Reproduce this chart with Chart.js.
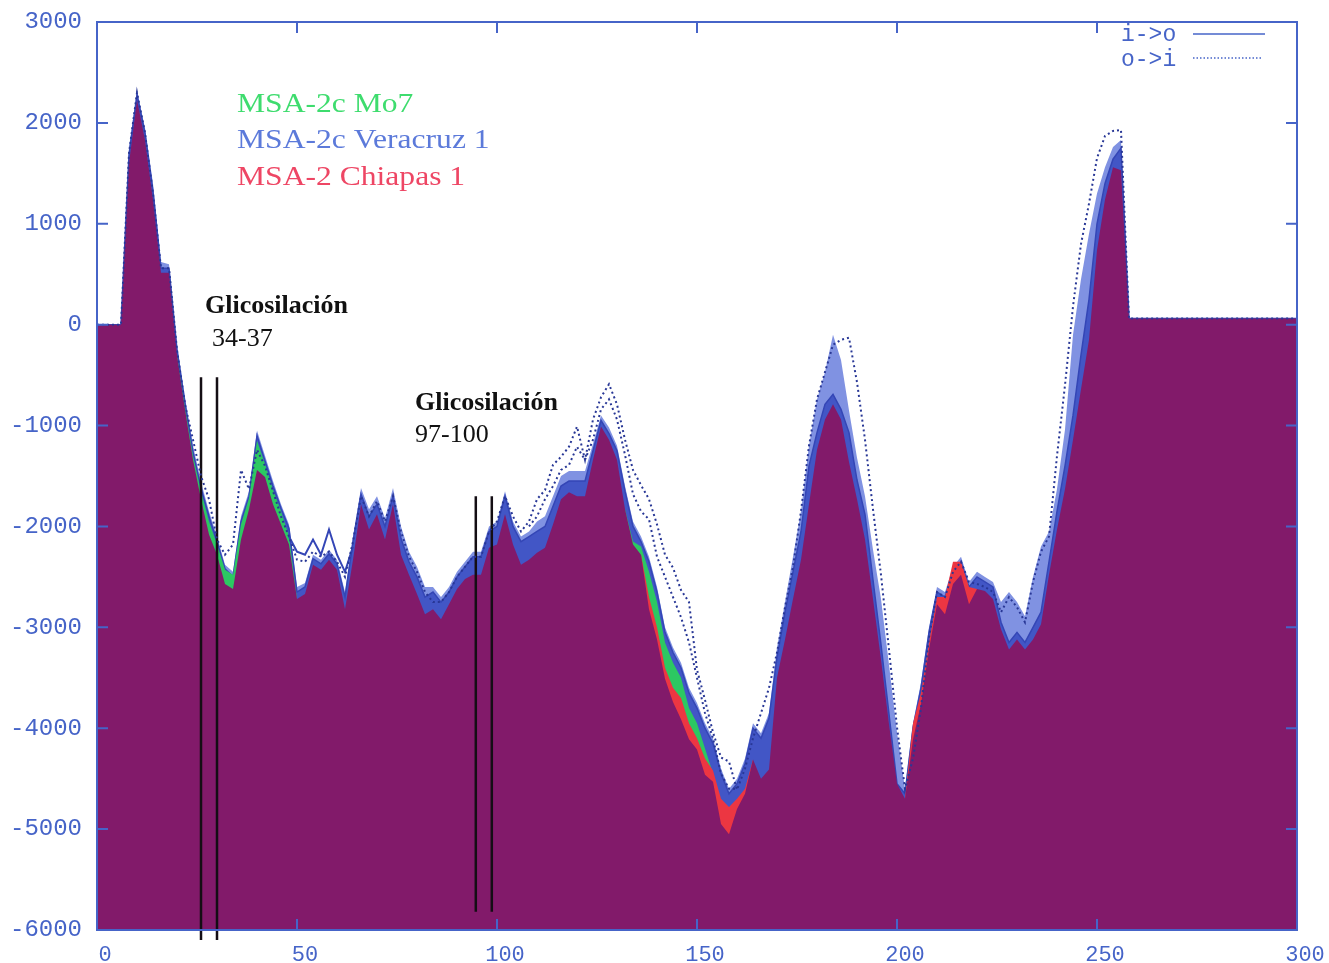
<!DOCTYPE html>
<html>
<head>
<meta charset="utf-8">
<script src="https://cdn.jsdelivr.net/npm/chart.js@4.4.1/dist/chart.umd.min.js"></script>
<style>
  body { margin: 0; background: #fff; }
  canvas { display: block; }
</style>
</head>
<body>
<canvas id="c" width="1329" height="963"></canvas>
<script>
// sample positions (residue), step 2
var xs = [
  0, 2, 4, 6, 8, 10, 12, 14, 16, 18,
  20, 22, 24, 26, 28, 30, 32, 34, 36, 38,
  40, 42, 44, 46, 48, 50, 52, 54, 56, 58,
  60, 62, 64, 66, 68, 70, 72, 74, 76, 78,
  80, 82, 84, 86, 88, 90, 92, 94, 96, 98,
  100, 102, 104, 106, 108, 110, 112, 114, 116, 118,
  120, 122, 124, 126, 128, 130, 132, 134, 136, 138,
  140, 142, 144, 146, 148, 150, 152, 154, 156, 158,
  160, 162, 164, 166, 168, 170, 172, 174, 176, 178,
  180, 182, 184, 186, 188, 190, 192, 194, 196, 198,
  200, 202, 204, 206, 208, 210, 212, 214, 216, 218,
  220, 222, 224, 226, 228, 230, 232, 234, 236, 238,
  240, 242, 244, 246, 248, 250, 252, 254, 256, 258,
  260, 262, 264, 266, 268, 270, 272, 274, 276, 278,
  280, 282, 284, 286, 288, 290, 292, 294, 296, 298,
  300
];

// purple profile (drawn on top)
var purple = [
  0, 0, 0, 0, 1600, 2230, 1830, 1240, 515, 515,
  -300, -840, -1340, -1730, -2080, -2280, -2570, -2620, -2130, -1830,
  -1440, -1510, -1780, -1980, -2180, -2720, -2670, -2380, -2430, -2330,
  -2430, -2820, -2330, -1780, -2030, -1880, -2130, -1780, -2280, -2480,
  -2670, -2870, -2820, -2920, -2770, -2620, -2520, -2480, -2480, -2210,
  -2180, -1880, -2180, -2380, -2330, -2260, -2210, -1980, -1730, -1660,
  -1700, -1700, -1340, -1010, -1140, -1340, -1830, -2180, -2280, -2820,
  -3120, -3510, -3740, -3910, -4110, -4210, -4460, -4530, -4950, -5050,
  -4800, -4650, -4310, -4500, -4410, -3500, -3120, -2720, -2330, -1780,
  -1240, -940, -790, -940, -1360, -1730, -2130, -2720, -3320, -3960,
  -4550, -4700, -4110, -3760, -3220, -2770, -2870, -2570, -2480, -2770,
  -2620, -2640, -2720, -3020, -3220, -3120, -3220, -3120, -2970, -2480,
  -2030, -1630, -1140, -640, -150, 740, 1240, 1560, 1530, 60,
  60, 60, 60, 60, 60, 60, 60, 60, 60, 60,
  60, 60, 60, 60, 60, 60, 60, 60, 60, 60,
  60
];

// dark blue profile
var darkBlue = [
  0, 0, 0, 0, 1680, 2280, 1900, 1320, 560, 560,
  -250, -780, -1260, -1620, -1900, -2150, -2420, -2500, -1950, -1700,
  -1100, -1350, -1600, -1820, -2020, -2650, -2600, -2320, -2370, -2270,
  -2370, -2700, -2150, -1680, -1900, -1780, -2000, -1700, -2120, -2350,
  -2500, -2700, -2650, -2750, -2650, -2500, -2400, -2300, -2300, -2050,
  -2000, -1700, -2000, -2150, -2100, -2050, -2000, -1800, -1600, -1550,
  -1550, -1550, -1250, -950, -1080, -1250, -1650, -2000, -2150, -2350,
  -2650, -3050, -3250, -3400, -3650, -3800, -4000, -4150, -4450, -4650,
  -4550, -4350, -4000, -4100, -3900, -3300, -2850, -2450, -2050, -1400,
  -1070, -790, -690, -840, -1070, -1540, -1880, -2530, -3170, -3860,
  -4550, -4650, -4000, -3600, -3050, -2650, -2700, -2450, -2350, -2600,
  -2500, -2550, -2600, -2950, -3150, -3050, -3150, -3000, -2850, -2350,
  -1850, -1400, -900, -300, 250, 1000, 1400, 1640, 1750, 60,
  60, 60, 60, 60, 60, 60, 60, 60, 60, 60,
  60, 60, 60, 60, 60, 60, 60, 60, 60, 60,
  60
];

// light blue profile (lowest layer, widest)
var lightBlue = [
  0, 0, 0, 0, 1750, 2320, 1950, 1400, 620, 600,
  -200, -720, -1200, -1560, -1850, -2100, -2380, -2450, -1900, -1650,
  -1050, -1300, -1550, -1780, -1980, -2600, -2560, -2280, -2330, -2230,
  -2330, -2650, -2100, -1620, -1830, -1700, -1920, -1620, -2000, -2250,
  -2400, -2600, -2600, -2700, -2600, -2450, -2350, -2250, -2250, -2000,
  -1950, -1650, -1950, -2100, -2050, -1950, -1900, -1700, -1500, -1450,
  -1450, -1450, -1180, -900, -1020, -1200, -1600, -1950, -2100, -2300,
  -2600, -3000, -3200, -3350, -3600, -3750, -3950, -4100, -4400, -4600,
  -4500, -4300, -3950, -4050, -3850, -3200, -2750, -2300, -1850, -1200,
  -740, -470, -100, -350, -850, -1320, -1700, -2230, -2720, -3370,
  -4040, -4600, -3950, -3550, -3000, -2600, -2650, -2400, -2300, -2550,
  -2450, -2500, -2550, -2750, -2650, -2750, -2890, -2500, -2200, -2050,
  -1630, -1040, -100, 450, 900, 1300, 1560, 1760, 1830, 60,
  60, 60, 60, 60, 60, 60, 60, 60, 60, 60,
  60, 60, 60, 60, 60, 60, 60, 60, 60, 60,
  60
];

// o->i dotted profile
var dotted = [
  0, 0, 0, 0, 1700, 2300, 1900, 1300, 560, 560,
  -250, -790, -1140, -1500, -1730, -2130, -2280, -2180, -1440, -1630,
  -1240, -1400, -1650, -1900, -2100, -2330, -2350, -2250, -2300, -2250,
  -2350, -2500, -2150, -1700, -1900, -1750, -1950, -1700, -2050, -2300,
  -2450, -2650, -2750, -2750, -2650, -2500, -2400, -2300, -2300, -2050,
  -1950, -1700, -1900, -2050, -1950, -1730, -1640, -1390, -1310, -1210,
  -1010, -1340, -940, -720, -590, -790, -1140, -1440, -1590, -1730,
  -1980, -2280, -2410, -2630, -2750, -3420, -3720, -4040, -4290, -4330,
  -4610, -4400, -4100, -3850, -3600, -3250, -2800, -2400, -1850, -1200,
  -740, -470, -200, -150, -130, -570, -1140, -1830, -2480, -3220,
  -3990, -4600, -4300, -3800, -3100, -2650, -2700, -2450, -2350, -2550,
  -2570, -2600, -2650, -2850, -2700, -2800, -2950, -2550, -2250, -2100,
  -1300, -600, 180, 800, 1200, 1650, 1870, 1920, 1930, 60,
  60, 60, 60, 60, 60, 60, 60, 60, 60, 60,
  60, 60, 60, 60, 60, 60, 60, 60, 60, 60,
  60
];

// second dotted trace, only where it splits off
var dotted2X = [108, 110, 112, 114, 116, 118, 120, 122, 124, 126, 128, 130, 132, 134,
  136, 138, 140, 142, 144, 146, 148, 150, 152, 154, 156, 158, 160];
var dotted2Y = [-2000, -1900, -1730, -1600, -1440, -1390, -1210, -1340, -1140, -840, -740, -940, -1290, -1680,
  -1850, -1930, -2300, -2500, -2700, -2900, -3150, -3500, -3850, -4100, -4450, -4600, -4600];

// i->o solid outline above the fill around 50-62
var solidX = [48, 50, 52, 54, 56, 58, 60, 62, 64];
var solidY = [-2100, -2250, -2280, -2130, -2280, -2030, -2280, -2450, -2200];

// MSA-2c Mo7 (green) pieces
var greenAX = [20, 22, 24, 26, 28, 30, 32, 34, 36, 38, 40, 42, 44, 46, 48, 50];
var greenAY = [-300, -820, -1300, -1650, -1950, -2180, -2430, -2480, -1980, -1720, -1150, -1380, -1640, -1850, -2100, -2720];
var greenBX = [132, 134, 136, 138, 140, 142, 144, 146, 148, 150, 152, 154, 156];
var greenBY = [-1830, -2150, -2200, -2450, -2750, -3150, -3350, -3500, -3800, -3950, -4200, -4450, -4950];

// MSA-2 Chiapas 1 (red) pieces
var redAX = [136, 138, 140, 142, 144, 146, 148, 150, 152, 154, 156, 158, 160, 162, 164];
var redAY = [-2280, -2700, -3000, -3400, -3600, -3700, -3950, -4100, -4300, -4420, -4700, -4780, -4700, -4600, -4310];
var redBX = [202, 204, 206, 208, 210, 212, 214, 216, 218, 220];
var redBY = [-4700, -3950, -3650, -3150, -2700, -2700, -2350, -2350, -2600, -2620];

// glycosylation markers
var glycoX = [26.0, 30.0, 94.7, 98.7];
var glycoTop = [-520, -520, -1700, -1700];
var glycoBottom = [-6100, -6100, -5820, -5820];

var xTicks = [0, 50, 100, 150, 200, 250, 300];
var yTicks = [3000, 2000, 1000, 0, -1000, -2000, -3000, -4000, -5000, -6000];

var AXIS = 'rgb(70,100,200)';

function pts(px, py) {
  return px.map(function (x, i) { return { x: x, y: py[i] }; });
}

function area(label, px, py, color, order) {
  return { label: label, data: pts(px, py), backgroundColor: color, borderWidth: 0,
    fill: 'start', order: order, pointRadius: 0 };
}

var datasets = [
  area('lightBlue', xs, lightBlue, 'rgb(128,146,226)', 7),
  { label: 'darkBlue', data: pts(xs, darkBlue), backgroundColor: 'rgb(66,86,198)',
    borderColor: 'rgb(52,70,182)', borderWidth: 1.5, fill: 'start', order: 6, pointRadius: 0 },
  area('greenA', greenAX, greenAY, 'rgb(44,200,98)', 5),
  area('greenB', greenBX, greenBY, 'rgb(44,200,98)', 5),
  area('redA', redAX, redAY, 'rgb(236,54,66)', 4),
  area('redB', redBX, redBY, 'rgb(236,54,66)', 4),
  area('purple', xs, purple, 'rgb(130,26,106)', 3),
  { label: 'solid', data: pts(solidX, solidY), borderColor: 'rgb(52,70,182)', borderWidth: 2,
    fill: false, order: 1, pointRadius: 0 },
  { label: 'dotted', data: pts(xs, dotted), borderColor: 'rgb(40,55,150)', borderWidth: 2,
    borderDash: [2, 3], fill: false, order: 0, pointRadius: 0 },
  { label: 'dotted2', data: pts(dotted2X, dotted2Y), borderColor: 'rgb(40,55,150)', borderWidth: 2,
    borderDash: [2, 3], fill: false, order: 0, pointRadius: 0 }
];

glycoX.forEach(function (gx, i) {
  datasets.push({ label: 'glyco' + i, data: [{ x: gx, y: glycoTop[i] }, { x: gx, y: glycoBottom[i] }],
    borderColor: 'rgb(20,14,20)', borderWidth: 2.5, fill: false, order: 0, pointRadius: 0, clip: false });
});

//frame, inward ticks and all the text labels
var framePlugin = {
  id: 'frame',
  afterDraw: function (chart) {
    var ctx = chart.ctx, a = chart.chartArea, sx = chart.scales.x, sy = chart.scales.y;
    ctx.save();
    ctx.strokeStyle = AXIS;
    ctx.lineWidth = 2;
    ctx.strokeRect(a.left, a.top, a.right - a.left, a.bottom - a.top);
    ctx.beginPath();
    yTicks.forEach(function (v) {
      var p = sy.getPixelForValue(v);
      ctx.moveTo(a.left, p); ctx.lineTo(a.left + 11, p);
      ctx.moveTo(a.right, p); ctx.lineTo(a.right - 11, p);
    });
    xTicks.forEach(function (v) {
      var p = sx.getPixelForValue(v);
      ctx.moveTo(p, a.top); ctx.lineTo(p, a.top + 11);
      ctx.moveTo(p, a.bottom); ctx.lineTo(p, a.bottom - 11);
    });
    ctx.stroke();

    // i->o / o->i key
    ctx.fillStyle = AXIS;
    ctx.font = '23px "Liberation Mono"';
    ctx.textBaseline = 'alphabetic';
    ctx.fillText('i->o', 1121, 41);
    ctx.fillText('o->i', 1121, 66);
    ctx.lineWidth = 1.5;
    ctx.beginPath(); ctx.moveTo(1193, 34); ctx.lineTo(1265, 34); ctx.stroke();
    ctx.setLineDash([1.5, 2]);
    ctx.beginPath(); ctx.moveTo(1193, 58); ctx.lineTo(1263, 58); ctx.stroke();
    ctx.setLineDash([]);

    // strain names
    var names = [['MSA-2c Mo7', 'rgb(62,220,110)', 112],
                 ['MSA-2c Veracruz 1', 'rgb(92,122,218)', 148],
                 ['MSA-2 Chiapas 1', 'rgb(238,70,100)', 185]];
    ctx.font = '27px "Liberation Serif"';
    names.forEach(function (n) {
      ctx.save();
      ctx.translate(237, n[2]);
      ctx.scale(1.17, 1);
      ctx.fillStyle = n[1];
      ctx.fillText(n[0], 0, 0);
      ctx.restore();
    });

    // glycosylation notes
    ctx.fillStyle = '#111';
    ctx.font = 'bold 26px "Liberation Serif"';
    ctx.fillText('Glicosilación', 205, 313);
    ctx.fillText('Glicosilación', 415, 410);
    ctx.font = '26px "Liberation Serif"';
    ctx.fillText('34-37', 212, 346);
    ctx.fillText('97-100', 415, 442);
    ctx.restore();
  }
};

// keep the plot box where the picture has it, labels may overhang
function noPad(s) {
  s.paddingTop = 0; s.paddingBottom = 0; s.paddingLeft = 0; s.paddingRight = 0;
}

new Chart(document.getElementById('c'), {
  type: 'line',
  data: { datasets: datasets },
  options: {
    responsive: false,
    animation: false,
    events: [],
    layout: { padding: { left: 0, right: 32, top: 22, bottom: 0 } },
    plugins: { legend: { display: false }, tooltip: { enabled: false } },
    elements: { line: { tension: 0 }, point: { radius: 0 } },
    scales: {
      x: {
        type: 'linear', min: 0, max: 300,
        grid: { display: false, drawTicks: false }, border: { display: false },
        ticks: { stepSize: 50, padding: 12, labelOffset: 8, color: AXIS,
          font: { family: 'Liberation Mono', size: 22 },
          callback: function (v) { return String(v); } },
        afterFit: function (s) { s.height = 33; noPad(s); }
      },
      y: {
        min: -6000, max: 3000,
        grid: { display: false, drawTicks: false }, border: { display: false },
        ticks: { stepSize: 1000, padding: 15, color: AXIS,
          font: { family: 'Liberation Mono', size: 24 },
          callback: function (v) { return String(v); } },
        afterFit: function (s) { s.width = 97; noPad(s); }
      }
    }
  },
  plugins: [framePlugin]
});
</script>
</body>
</html>
